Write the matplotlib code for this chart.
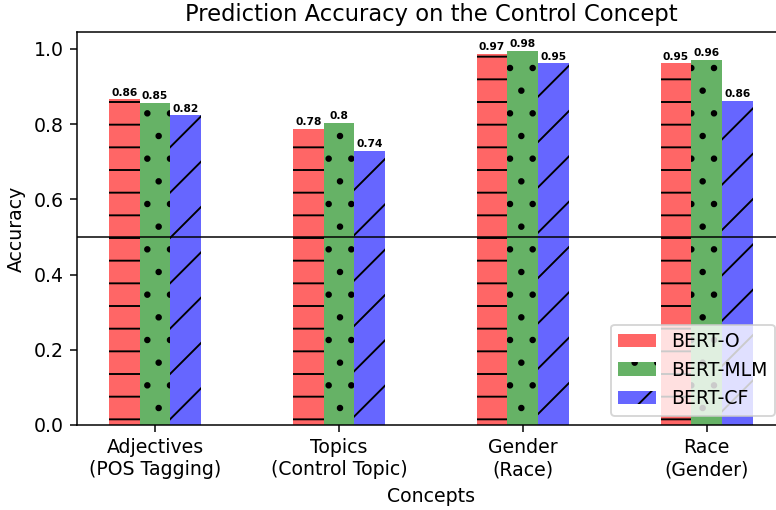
import matplotlib
matplotlib.use("Agg")
import matplotlib.pyplot as plt
import numpy as np

# values
concepts = ["Adjectives\n(POS Tagging)", "Topics\n(Control Topic)", "Gender\n(Race)", "Race\n(Gender)"]
models = ["BERT-O", "BERT-MLM", "BERT-CF"]
bert_o = [0.866, 0.788, 0.987, 0.962]
bert_mlm = [0.857, 0.803, 0.995, 0.971]
bert_cf = [0.824, 0.729, 0.962, 0.862]
labels_o = ["0.86", "0.78", "0.97", "0.95"]
labels_mlm = ["0.85", "0.8", "0.98", "0.96"]
labels_cf = ["0.82", "0.74", "0.95", "0.86"]

colors = ["#ff6666", "#66b266", "#6666ff"]
hatches = ["-", ".", "/"]

plt.rcParams["hatch.color"] = "black"

fig = plt.figure(figsize=(776 / 136, 510 / 136), dpi=136)
# right spine sits just past the figure edge, as in the reference
ax = fig.add_axes([0.0992, 0.1667, 0.912, 0.7706])

x = np.arange(len(concepts))
width = 1 / 6

series = [(bert_o, labels_o), (bert_mlm, labels_mlm), (bert_cf, labels_cf)]
for i, (vals, labs) in enumerate(series):
    pos = x + (i - 1) * width
    bars = ax.bar(pos, vals, width, color=colors[i], hatch=hatches[i],
                  linewidth=0, label=models[i])
    for b, lab in zip(bars, labs):
        ax.text(b.get_x() + b.get_width() / 2, b.get_height() + 0.004, lab,
                ha="center", va="bottom", fontsize=5.6, fontweight="bold")

ax.axhline(0.5, color="black", linewidth=0.8)

ax.set_xticks(x)
ax.set_xticklabels(concepts)
ax.set_xlabel("Concepts")
ax.set_ylabel("Accuracy")
ax.set_title("Prediction Accuracy on the Control Concept")
ax.legend(loc="lower right")

fig.savefig("out.png", dpi=136)
